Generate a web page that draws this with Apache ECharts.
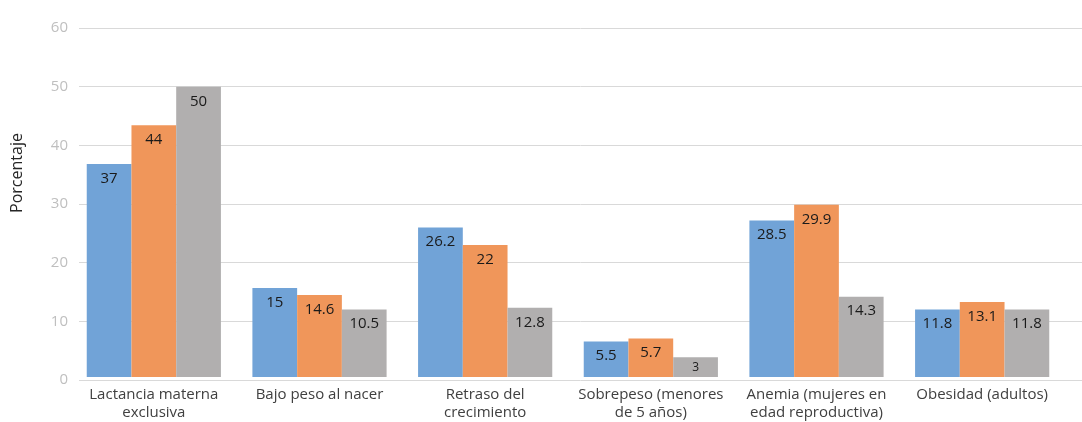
<!DOCTYPE html>
<html>
<head>
<meta charset="utf-8">
<script src="https://cdn.jsdelivr.net/npm/echarts@6/dist/echarts.min.js"></script>
<style>
  html, body { margin: 0; padding: 0; background: #fff; }
  #chart { width: 1082px; height: 422px; }
</style>
</head>
<body>
<div id="chart"></div>
<script>
var categories = ['Lactancia materna\nexclusiva', 'Bajo peso al nacer', 'Retraso del\ncrecimiento',
    'Sobrepeso (menores\nde 5 años)', 'Anemia (mujeres en\nedad reproductiva)', 'Obesidad (adultos)'];

// bar heights as drawn in the picture
var serieA = [36.6, 15.3, 25.7, 6.1, 26.9, 11.6];
var serieB = [43.3, 14.1, 22.7, 6.6, 29.6, 12.9];
var serieC = [49.9, 11.6, 11.9, 3.4, 13.8, 11.6];

// data labels as printed
var labelsA = ['37', '15', '26.2', '5.5', '28.5', '11.8'];
var labelsB = ['44', '14.6', '22', '5.7', '29.9', '13.1'];
var labelsC = ['50', '10.5', '12.8', '3', '14.3', '11.8'];

var colors = ['#71a3d7', '#f0965a', '#b1afaf'];

function buildData(values, labels) {
    return values.map(function (v, i) {
        var item = { value: v, lbl: labels[i] };
        if (v < 5) item.label = { fontSize: 12, distance: 4 };
        return item;
    });
}

function makeSeries(values, labels, color) {
    return {
        type: 'bar',
        xAxisIndex: 1,
        yAxisIndex: 1,
        data: buildData(values, labels),
        itemStyle: { color: color },
        barGap: 0,
        barCategoryGap: '19%',
        label: {
            show: true,
            position: 'insideTop',
            distance: 7,
            color: '#1a1a1a',
            fontFamily: 'Open Sans',
            fontSize: 15,
            formatter: function (p) { return p.data.lbl; }
        }
    };
}

var myChart = echarts.init(document.getElementById('chart'));

option = {
    animation: false,
    // grid 0 holds the value scale and gridlines, grid 1 the bars
    grid: [
        { left: 79, right: 0, top: 28, bottom: 42 },
        { left: 71, right: 17, top: 28, bottom: 42 }
    ],
    xAxis: [
        { type: 'value', gridIndex: 0, show: false },
        {
            type: 'category',
            gridIndex: 1,
            data: categories,
            axisTick: { show: false },
            axisLine: { show: false },
            axisLabel: {
                color: '#404040',
                fontFamily: 'Open Sans',
                fontSize: 15,
                lineHeight: 18,
                margin: 9,
                interval: 0
            }
        }
    ],
    yAxis: [
        {
            type: 'value',
            gridIndex: 0,
            min: 0,
            max: 60,
            interval: 10,
            name: 'Porcentaje',
            nameLocation: 'middle',
            nameGap: 54,
            nameTextStyle: {
                color: '#262626',
                fontFamily: 'Open Sans',
                fontSize: 16,
                padding: [0, 0, 0, 62]
            },
            axisLine: { show: false },
            axisTick: { show: false },
            splitLine: { lineStyle: { color: '#d9d9d9', width: 1 } },
            axisLabel: {
                color: '#bfbfbf',
                fontFamily: 'Open Sans',
                fontSize: 15,
                margin: 11
            }
        },
        {
            type: 'value',
            gridIndex: 1,
            min: 0,
            max: 60,
            interval: 10,
            show: false,
            splitLine: { show: false }
        }
    ],
    series: [
        makeSeries(serieA, labelsA, colors[0]),
        makeSeries(serieB, labelsB, colors[1]),
        makeSeries(serieC, labelsC, colors[2])
    ]
};

myChart.setOption(option);
</script>
</body>
</html>
